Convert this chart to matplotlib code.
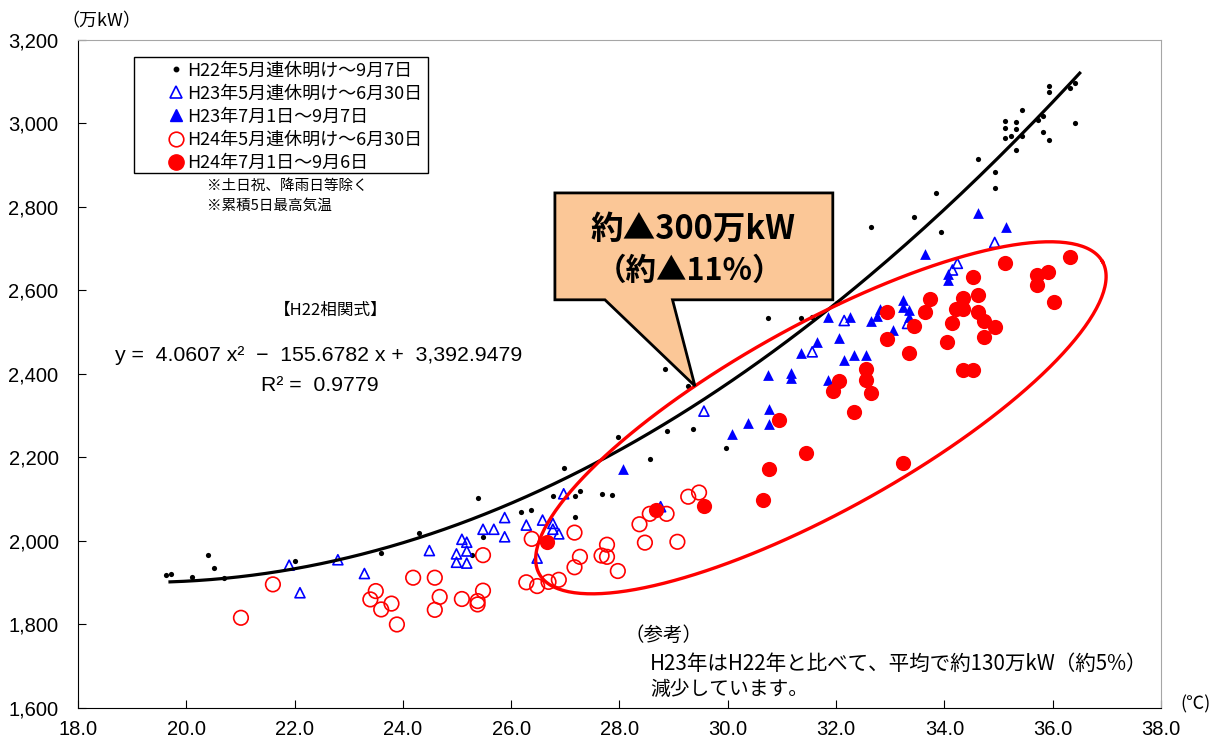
import matplotlib
matplotlib.use('Agg')
import matplotlib.pyplot as plt
import numpy as np
from matplotlib.patches import Polygon, Rectangle
from matplotlib.lines import Line2D

plt.rcParams['font.family'] = ['Liberation Sans', 'Noto Sans CJK JP', 'DejaVu Sans']
JP = ['Noto Sans CJK JP', 'DejaVu Sans']

# H22 (2010) 5/連休明け - 9/7
h22_temp = [19.62, 19.71, 20.11, 20.41, 20.51, 20.70, 22.00, 23.60, 24.29, 25.39, 25.48, 25.28,
            26.18, 26.37, 29.26, 27.97, 28.87, 29.36, 29.96, 28.56, 26.97, 26.77, 27.17, 27.27,
            27.67, 27.87, 27.17, 28.85, 32.64, 33.93, 30.75, 31.36, 31.56, 32.02, 33.44, 33.84,
            34.63, 34.93, 34.93, 35.12, 35.12, 35.12, 35.23, 35.33, 35.33, 35.33, 35.43, 35.43,
            35.73, 35.82, 35.82, 35.93, 35.93, 35.93, 36.32, 36.42, 36.42]
h22_load = [1919, 1922, 1914, 1966, 1935, 1912, 1953, 1970, 2018, 2103, 2010, 1966,
            2070, 2073, 2370, 2248, 2264, 2268, 2222, 2196, 2175, 2108, 2108, 2120,
            2113, 2109, 2058, 2412, 2753, 2741, 2533, 2535, 2537, 2571, 2777, 2834,
            2914, 2883, 2846, 3005, 2990, 2965, 2971, 3004, 2986, 2937, 3032, 2971,
            3008, 3018, 2979, 3090, 3075, 2960, 3084, 3096, 3000]

# H23 5/連休明け - 6/30
h23a_temp = [21.90, 22.10, 22.80, 23.29, 24.49, 24.99, 24.99, 25.09, 25.18, 25.18, 25.18, 25.48,
             25.68, 25.88, 25.88, 26.28, 26.58, 26.48, 26.77, 26.77, 26.88, 26.97, 29.56, 28.76,
             31.56, 32.15, 33.32, 34.15, 34.24, 34.93]
h23a_load = [1942, 1876, 1955, 1922, 1977, 1969, 1949, 2004, 1997, 1976, 1947, 2028,
             2028, 2056, 2010, 2038, 2050, 1959, 2042, 2028, 2017, 2113, 2311, 2082,
             2453, 2528, 2521, 2649, 2665, 2715]

# H23 7/1 - 9/7
h23b_temp = [30.37, 30.07, 28.07, 30.76, 30.76, 35.13, 33.64, 34.06, 34.06, 32.82, 33.24, 33.24,
             33.35, 33.35, 33.06, 32.64, 32.76, 32.26, 31.86, 31.65, 31.36, 32.05, 32.34, 32.55,
             32.15, 31.16, 31.16, 30.75, 31.86, 34.63]
h23b_load = [2283, 2256, 2173, 2315, 2281, 2751, 2687, 2640, 2625, 2555, 2577, 2560,
             2553, 2537, 2505, 2528, 2539, 2537, 2536, 2477, 2450, 2485, 2445, 2445,
             2433, 2403, 2390, 2398, 2386, 2785]

# H24 5/連休明け - 6/30
h24a_temp = [21.01, 21.60, 23.50, 23.40, 23.60, 23.79, 23.89, 24.19, 24.59, 24.68, 24.59, 25.09,
             25.38, 25.38, 25.48, 25.48, 26.28, 26.48, 26.38, 26.69, 26.88, 27.17, 27.17, 27.27,
             27.67, 27.77, 27.77, 27.97, 28.37, 28.47, 28.56, 28.87, 29.07, 29.27, 29.47]
h24a_load = [1816, 1896, 1880, 1860, 1836, 1850, 1800, 1912, 1912, 1866, 1835, 1861,
             1856, 1848, 1881, 1966, 1901, 1892, 2005, 1902, 1907, 2020, 1937, 1962,
             1965, 1991, 1962, 1928, 2040, 1996, 2065, 2065, 1998, 2106, 2116]

# H24 7/1 - 9/6
h24b_temp = [26.67, 28.67, 29.56, 30.65, 30.76, 31.45, 30.95, 31.94, 32.05, 32.55, 32.55, 32.64,
             32.34, 33.24, 32.95, 32.95, 33.34, 33.44, 33.64, 33.74, 34.04, 34.14, 34.22, 34.34,
             34.34, 34.34, 34.53, 34.53, 34.63, 34.63, 34.73, 34.73, 34.93, 35.12, 35.72, 35.92,
             35.72, 36.03, 36.32]
h24b_load = [1997, 2074, 2084, 2097, 2173, 2210, 2290, 2359, 2384, 2411, 2386, 2354,
             2308, 2186, 2548, 2483, 2450, 2515, 2548, 2579, 2477, 2523, 2555, 2555,
             2581, 2410, 2410, 2633, 2590, 2549, 2528, 2489, 2512, 2665, 2637, 2644,
             2613, 2573, 2681]

# H22 correlation
coef = [4.0607, -155.6782, 3392.9479]
fit_range = (19.7, 36.5)

fig = plt.figure(figsize=(12.2, 7.51), dpi=100)
ax = fig.add_axes([0.0639, 0.0573, 0.8877, 0.8895])

ax.scatter(h22_temp, h22_load, s=14, c='black', lw=0, zorder=3)
ax.scatter(h23a_temp, h23a_load, s=52, marker='^', facecolors='none', edgecolors='#0000FF', linewidths=1.2, zorder=3)
ax.scatter(h23b_temp, h23b_load, s=60, marker='^', c='#0000FF', lw=0, zorder=3)
ax.scatter(h24a_temp, h24a_load, s=110, marker='o', facecolors='none', edgecolors='#FF0000', linewidths=1.2, zorder=4)
ax.scatter(h24b_temp, h24b_load, s=120, marker='o', c='#FF0000', lw=0, zorder=4)

xs = np.linspace(fit_range[0], fit_range[1], 200)
ax.plot(xs, np.polyval(coef, xs), color='black', lw=2.3, zorder=5)

# red ellipse, defined in screen-like units then mapped to data
xlim, ylim = (18, 38), (1600, 3200)
sx = 1083 / (xlim[1] - xlim[0])
sy = 668 / (ylim[1] - ylim[0])
ec_t, ec_p = 31.72, 2295
ea, eb, ang = 322, 93, np.radians(29)
t = np.linspace(0, 2 * np.pi, 300)
dx = ea * np.cos(t) * np.cos(ang) - eb * np.sin(t) * np.sin(ang)
dy = ea * np.cos(t) * np.sin(ang) + eb * np.sin(t) * np.cos(ang)
ax.plot(ec_t + dx / sx, ec_p + dy / sy, color='#FF0000', lw=2.4, zorder=6)

ax.set_xlim(*xlim)
ax.set_ylim(*ylim)
ax.set_xticks(np.arange(18, 38.1, 2))
ax.set_xticklabels([f'{v:.1f}' for v in np.arange(18, 38.1, 2)])
ax.set_yticks(np.arange(1600, 3201, 200))
ax.set_yticklabels([f'{v:,}' for v in range(1600, 3201, 200)])
ax.tick_params(direction='in', length=6, labelsize=14.5, pad=9, colors='black')
ax.tick_params(axis='y', pad=14)
for s in ['top', 'right']:
    ax.spines[s].set_color('#A6A6A6')
for s in ['left', 'bottom']:
    ax.spines[s].set_color('black')

fig.text(0.05, 0.972, '（万kW）', fontsize=13, family=JP, ha='left', va='center')
fig.text(0.98, 0.062, '(℃)', fontsize=13, family=JP, ha='center', va='center')

# legend (frame drawn separately so the markers sit well inside it)
handles = [
    Line2D([], [], ls='none', marker='o', ms=3.2, mfc='black', mec='black'),
    Line2D([], [], ls='none', marker='^', ms=8, mfc='none', mec='#0000FF', mew=1.2),
    Line2D([], [], ls='none', marker='^', ms=8.5, mfc='#0000FF', mec='#0000FF'),
    Line2D([], [], ls='none', marker='o', ms=10.5, mfc='none', mec='#FF0000', mew=1.2),
    Line2D([], [], ls='none', marker='o', ms=11, mfc='#FF0000', mec='#FF0000'),
]
labels = ['H22年5月連休明け～9月7日', 'H23年5月連休明け～6月30日', 'H23年7月1日～9月7日',
          'H24年5月連休明け～6月30日', 'H24年7月1日～9月6日']
ax.legend(handles, labels, loc='upper left', bbox_to_anchor=(0.0822, 0.9675),
          borderaxespad=0, frameon=False, prop={'family': JP, 'size': 13},
          labelspacing=0.28, handlelength=1.0, handletextpad=0.12, borderpad=0)
ax.add_patch(Rectangle((0.0517, 0.801), 0.2713, 0.1728, transform=ax.transAxes,
                       fill=False, edgecolor='black', lw=1.0, zorder=8))

ax.text(0.119, 0.782, '※土日祝、降雨日等除く', transform=ax.transAxes, fontsize=10.5, family=JP, va='center')
ax.text(0.119, 0.752, '※累積5日最高気温', transform=ax.transAxes, fontsize=10.5, family=JP, va='center')

ax.text(0.233, 0.595, '【H22相関式】', transform=ax.transAxes, fontsize=12, family=JP, ha='center', va='center')
ax.text(0.034, 0.527, 'y =  4.0607 x²  −  155.6782 x +  3,392.9479', transform=ax.transAxes,
        fontsize=15.3, ha='left', va='center')
ax.text(0.223, 0.482, 'R² =  0.9779', transform=ax.transAxes, fontsize=15.3, ha='center', va='center')

# callout
box = Polygon([(0.4404, 0.771), (0.697, 0.771), (0.697, 0.611), (0.549, 0.611), (0.5697, 0.482),
               (0.4866, 0.611), (0.4404, 0.611)], closed=True, transform=ax.transAxes,
              facecolor='#FBC797', edgecolor='black', lw=2, zorder=7)
ax.add_patch(box)
ax.text(0.568, 0.716, '約▲300万kW', transform=ax.transAxes, fontsize=23.5, family=JP,
        fontweight='bold', ha='center', va='center', zorder=8)
ax.text(0.565, 0.654, '（約▲11%）', transform=ax.transAxes, fontsize=22, family=JP,
        fontweight='bold', ha='center', va='center', zorder=8)

ax.text(0.505, 0.108, '（参考）', transform=ax.transAxes, fontsize=14, family=JP, va='center')
ax.text(0.528, 0.066, 'H23年はH22年と比べて、平均で約130万kW（約5%）', transform=ax.transAxes,
        fontsize=14.8, family=JP, va='center')
ax.text(0.528, 0.027, '減少しています。', transform=ax.transAxes, fontsize=14.2, family=JP, va='center')

fig.savefig('out.png', dpi=100)
